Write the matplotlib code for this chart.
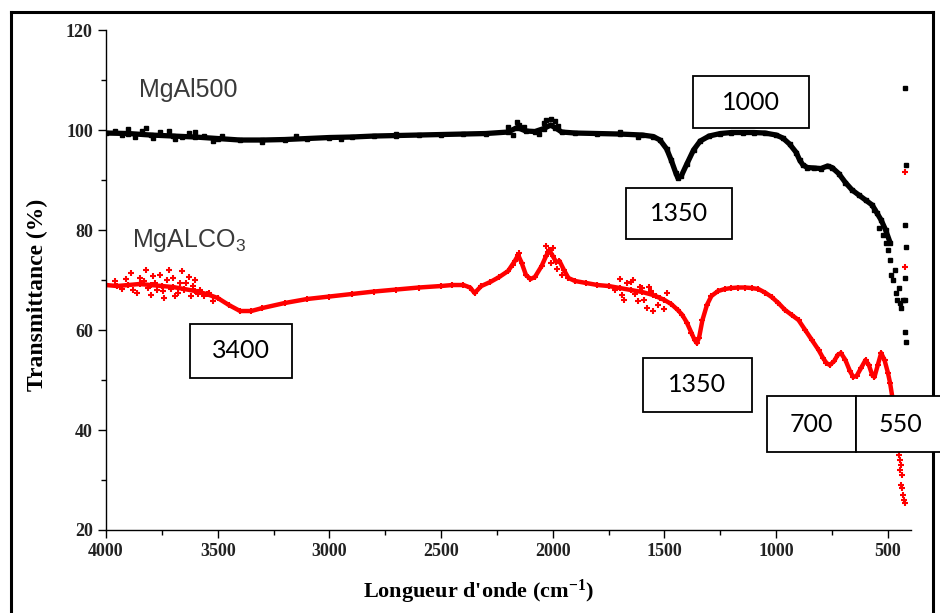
import matplotlib
matplotlib.use('Agg')
import matplotlib.pyplot as plt
from matplotlib.patches import Rectangle
from matplotlib.lines import Line2D
import numpy as np

plt.rcParams['mathtext.default'] = 'regular'

# MgAl500 (black) - main trace
wn_al500 = [4000, 3900, 3800, 3700, 3600, 3500, 3400, 3300, 3200, 3100, 3000, 2900,
            2800, 2700, 2600, 2500, 2400, 2300, 2200, 2160, 2120, 2080, 2040, 2010,
            1990, 1960, 1900, 1800, 1700, 1600, 1550, 1520, 1490, 1470, 1450, 1440,
            1425, 1400, 1370, 1340, 1300, 1250, 1200, 1150, 1100, 1050, 1000, 970,
            940, 910, 895, 880, 860, 830, 800, 770, 750, 720, 690, 660, 630, 600,
            570, 550, 530, 510, 490]
t_al500 = [99.4, 99.3, 99.0, 98.8, 98.6, 98.3, 98.0, 98.0, 98.1, 98.3, 98.5, 98.6,
           98.8, 98.9, 99.0, 99.1, 99.2, 99.3, 99.6, 100.5, 99.8, 99.7, 100.3, 101.0,
           100.5, 99.6, 99.4, 99.3, 99.2, 99.0, 98.7, 98.0, 96.2, 94.0, 91.5, 90.4,
           90.8, 93.2, 96.0, 97.8, 98.8, 99.3, 99.5, 99.5, 99.5, 99.4, 99.0, 98.4,
           97.2, 95.5, 94.0, 93.0, 92.5, 92.4, 92.3, 92.8, 92.5, 91.3, 89.5, 88.0,
           87.0, 86.0, 85.0, 83.5, 82.0, 80.0, 77.5]
# scattered noisy points of MgAl500
wn_al500_pts = [3960, 3930, 3900, 3870, 3840, 3820, 3790, 3760, 3720, 3690, 3660,
                3630, 3600, 3560, 3520, 3480, 3300, 3150, 2950, 2700, 2200, 2180,
                2160, 2150, 2130, 2060, 2040, 2030, 2010, 1990, 1975, 1700, 1620,
                560, 540, 520, 510, 500, 490, 485, 478, 470, 465, 460, 452, 445,
                440, 432, 424, 420, 424, 420, 424, 424, 424, 420]
t_al500_pts = [99.9, 99.0, 100.2, 98.6, 99.8, 100.4, 98.4, 99.6, 99.8, 98.2, 98.6,
               99.4, 99.6, 98.8, 97.8, 98.9, 97.6, 98.8, 98.2, 99.3, 100.6, 99.0,
               101.6, 101.0, 100.6, 99.2, 101.4, 102.0, 102.2, 101.8, 100.8, 99.7, 98.6,
               84.0, 80.5, 79.0, 77.5, 76.0, 74.0, 71.0, 70.0, 72.0, 67.5, 66.0,
               68.5, 65.5, 64.5, 66.0, 108.4, 93.0, 81.0, 76.6, 70.4, 66.0, 59.6, 57.6]

# MgALCO3 (red) - main trace
wn_co3 = [4000, 3950, 3900, 3850, 3800, 3750, 3700, 3650, 3600, 3550, 3500, 3450,
          3400, 3350, 3300, 3200, 3100, 3000, 2900, 2800, 2700, 2600, 2500, 2450,
          2400, 2370, 2350, 2320, 2280, 2240, 2200, 2170, 2155, 2140, 2120, 2100,
          2080, 2050, 2030, 2015, 2000, 1985, 1970, 1950, 1930, 1900, 1850, 1800,
          1750, 1700, 1650, 1600, 1550, 1500, 1470, 1440, 1420, 1400, 1380, 1365,
          1355, 1345, 1330, 1310, 1290, 1260, 1230, 1200, 1170, 1140, 1110, 1080,
          1050, 1020, 990, 960, 930, 900, 870, 840, 810, 790, 775, 760, 740, 725,
          710, 690, 670, 655, 640, 620, 600, 585, 570, 560, 545, 530, 515, 500,
          490, 480]
t_co3 = [69.0, 68.8, 69.0, 69.2, 69.0, 68.8, 68.6, 68.2, 67.8, 67.2, 66.4, 65.0,
         63.8, 63.8, 64.4, 65.4, 66.2, 66.7, 67.2, 67.7, 68.1, 68.5, 68.8, 69.0,
         69.0, 68.5, 67.4, 68.8, 69.6, 70.6, 71.8, 73.8, 75.0, 73.5, 71.0, 70.2,
         70.6, 72.8, 74.8, 76.0, 74.8, 73.6, 73.8, 72.0, 70.4, 69.8, 69.4, 69.0,
         68.8, 68.4, 68.0, 67.6, 67.0, 66.0, 65.2, 64.0, 63.0, 61.5, 59.5, 58.0,
         57.4, 58.5, 62.0, 65.0, 66.8, 67.8, 68.2, 68.4, 68.5, 68.5, 68.4, 68.2,
         67.5, 66.6, 65.4, 64.0, 63.0, 62.0, 60.0, 58.0, 56.0, 54.4, 53.4, 53.0,
         53.8, 55.0, 55.4, 54.0, 51.8, 50.6, 50.8, 52.4, 54.0, 53.0, 51.0, 50.6,
         53.0, 55.4, 54.0, 51.5, 49.4, 46.6]
# scattered noisy points of MgALCO3
wn_co3_pts = [3960, 3930, 3910, 3890, 3880, 3860, 3850, 3830, 3820, 3810, 3800,
              3790, 3780, 3770, 3760, 3745, 3740, 3725, 3720, 3710, 3700, 3690,
              3680, 3670, 3660, 3650, 3640, 3630, 3620, 3610, 3600, 3590, 3580,
              3560, 3540, 3520,
              1720, 1700, 1690, 1680, 1670, 1650, 1640, 1630, 1620, 1610, 1600,
              1590, 1580, 1570, 1560, 1550, 1540, 1530, 1520, 1500, 1490,
              2180, 2160, 2150, 2030, 2020, 2010, 2000, 1980, 1960,
              424, 424, 446, 440, 435, 450, 442, 430, 424, 428, 445, 436]
t_co3_pts = [69.8, 68.2, 70.2, 71.5, 68.0, 67.5, 70.5, 69.8, 72.0, 68.5, 67.0,
             70.8, 69.5, 68.0, 71.0, 67.8, 66.5, 70.0, 72.0, 68.2, 70.5, 66.8,
             67.5, 69.5, 71.8, 68.0, 69.5, 70.6, 66.8, 68.8, 70.0, 67.2, 68.0,
             66.8, 67.5, 65.8,
             68.0, 70.2, 67.0, 66.0, 69.4, 69.6, 70.0, 67.2, 65.8, 68.6, 68.4,
             66.0, 64.5, 68.6, 67.8, 63.8, 66.8, 65.0, 66.5, 64.2, 67.4,
             73.0, 74.2, 75.4, 76.8, 75.6, 73.4, 76.4, 72.2, 71.0,
             91.6, 72.6, 34.0, 33.0, 31.0, 35.0, 29.0, 27.0, 25.4, 26.0, 32.0, 28.5]

fig = plt.figure(figsize=(9.4, 6.13), dpi=100)
ax = fig.add_axes([0.1128, 0.1354, 0.969 - 0.1128, 0.951 - 0.1354])

ax.plot(wn_al500, t_al500, color='black', linewidth=3.8, solid_capstyle='butt')
ax.plot(wn_al500, t_al500, 's', color='black', markersize=3)
ax.plot(wn_al500_pts, t_al500_pts, 's', color='black', markersize=3.5)
ax.plot(wn_co3, t_co3, color='red', linewidth=3.2)
ax.plot(wn_co3, t_co3, '+', color='red', markersize=4, markeredgewidth=1.5)
ax.plot(wn_co3_pts, t_co3_pts, '+', color='red', markersize=4, markeredgewidth=1.5)

ax.set_xlim(4000, 397)
ax.set_ylim(20, 120)
ax.set_xticks([4000, 3500, 3000, 2500, 2000, 1500, 1000, 500])
ax.set_xticks(np.arange(3750, 400, -500), minor=True)
ax.set_yticks([20, 40, 60, 80, 100, 120])
ax.set_yticks([30, 50, 70, 90, 110], minor=True)
ax.spines['top'].set_visible(False)
ax.spines['right'].set_visible(False)
for s in ['left', 'bottom']:
    ax.spines[s].set_linewidth(1.0)
ax.tick_params(which='major', direction='out', length=6, width=1.0)
ax.tick_params(which='minor', direction='out', length=3.5, width=1.0)
for lab in ax.get_xticklabels() + ax.get_yticklabels():
    lab.set_fontfamily('Liberation Serif')
    lab.set_fontweight('bold')
    lab.set_fontsize(13)
    lab.set_color('#222222')

ax.set_xlabel("Longueur d'onde (cm$^{-1}$)", fontfamily='Liberation Serif',
              fontweight='bold', fontsize=16)
ax.set_ylabel('Transmittance (%)', fontfamily='Liberation Serif',
              fontweight='bold', fontsize=17)
ax.xaxis.set_label_coords(0.463, -0.095)
ax.yaxis.set_label_coords(-0.072, 0.47)

# sample names
fig.text(139 / 940, 1 - 90 / 613, 'MgAl500', fontfamily='Liberation Sans',
         fontsize=18, color='#3a3a3a', va='center', ha='left')
fig.text(132 / 940, 1 - 240 / 613, 'MgALCO$_3$', fontfamily='Liberation Sans',
         fontsize=18, color='#3a3a3a', va='center', ha='left')

# peak boxes (pixel positions: x0, y0 top, x1, y1 bottom)
boxes = [('1000', 693, 76, 809, 128), ('1350', 626, 188, 732, 239),
         ('3400', 190, 324, 292, 378), ('1350', 643, 358, 752, 412),
         ('700', 767, 396, 856, 452), ('550', 856, 396, 945, 452)]
for txt, x0, y0, x1, y1 in boxes:
    r = Rectangle((x0 / 940, 1 - y1 / 613), (x1 - x0) / 940, (y1 - y0) / 613,
                  transform=fig.transFigure, facecolor='white', edgecolor='black',
                  linewidth=1.3, zorder=10)
    fig.add_artist(r)
    fig.text((x0 + x1) / 2 / 940, 1 - (y0 + y1) / 2 / 613, txt, fontfamily='Lato',
             fontsize=18, ha='center', va='center', zorder=11)

# outer frame
for xs, ys in [([11, 11], [12, 620]), ([11, 933], [12, 12]), ([933, 933], [12, 620])]:
    fig.add_artist(Line2D([x / 940 for x in xs], [1 - y / 613 for y in ys],
                          transform=fig.transFigure, color='black', linewidth=2.2,
                          zorder=9))

fig.savefig('out.png', dpi=100)
